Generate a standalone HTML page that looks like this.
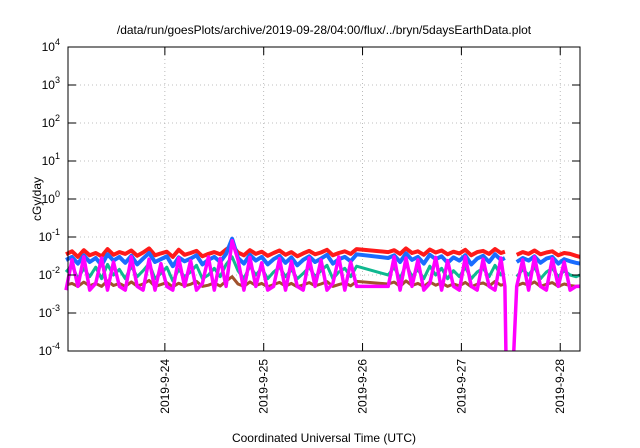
<!DOCTYPE html>
<html><head><meta charset="utf-8"><style>
html,body{margin:0;padding:0;background:#fff}
svg{display:block;font-family:"Liberation Sans",sans-serif}
</style></head><body>
<svg id="chart" width="640" height="448" viewBox="0 0 640 448" xmlns="http://www.w3.org/2000/svg">
<text x="324" y="34" font-size="12" text-anchor="middle">/data/run/goesPlots/archive/2019-09-28/04:00/flux/../bryn/5daysEarthData.plot</text>
<text x="0" y="0" font-size="12" text-anchor="middle" transform="translate(41,199) rotate(-90)">cGy/day</text>
<text x="324" y="442" font-size="12" text-anchor="middle">Coordinated Universal Time (UTC)</text>
<g id="grid"></g><g id="series"></g><g id="axes"></g>
</svg>
<script>
const times=[23.00,23.06,23.12,23.18,23.24,23.30,23.36,23.42,23.48,23.54,23.60,23.66,23.72,23.78,23.84,23.90,23.96,24.02,24.08,24.14,24.20,24.26,24.32,24.38,24.44,24.50,24.56,24.62,24.68,24.74,24.80,24.86,24.92,24.98,25.04,25.10,25.16,25.22,25.28,25.34,25.40,25.46,25.52,25.58,25.64,25.70,25.76,25.82,25.88,25.94,
26.26,26.32,26.38,26.44,26.50,26.56,26.62,26.68,26.74,26.80,26.86,26.92,26.98,27.04,27.10,27.16,27.22,27.28,27.34,27.40,27.44,
27.45,27.49,27.53,
27.56,27.62,27.68,27.74,27.80,27.86,27.92,27.98,28.04,28.10,28.16,28.20];
const redSeries=[0.035,0.042,0.030,0.045,0.033,0.038,0.031,0.048,0.034,0.040,0.036,0.044,0.032,0.039,0.050,0.033,0.037,0.041,0.030,0.046,0.034,0.038,0.043,0.031,0.036,0.040,0.035,0.047,0.060,0.039,0.033,0.045,0.036,0.041,0.032,0.038,0.044,0.034,0.040,0.031,0.037,0.043,0.035,0.039,0.046,0.033,0.038,0.042,0.036,0.048,
0.040,0.045,0.036,0.050,0.038,0.042,0.034,0.047,0.039,0.044,0.035,0.041,0.037,0.046,0.033,0.040,0.043,0.036,0.048,0.038,0.041,
null,null,null,
0.034,0.040,0.036,0.044,0.035,0.039,0.042,0.033,0.038,0.036,0.032,0.030];
const tealSeries=[0.012,0.018,0.008,0.015,0.009,0.016,0.008,0.019,0.010,0.014,0.008,0.017,0.009,0.013,0.020,0.008,0.011,0.016,0.007,0.014,0.009,0.012,0.018,0.008,0.010,0.015,0.009,0.019,0.030,0.013,0.008,0.017,0.010,0.015,0.008,0.012,0.016,0.009,0.014,0.008,0.011,0.016,0.009,0.013,0.018,0.008,0.012,0.015,0.009,0.017,
0.010,0.016,0.008,0.019,0.009,0.014,0.008,0.017,0.010,0.015,0.008,0.013,0.009,0.016,0.008,0.012,0.015,0.009,0.018,0.010,0.011,
null,null,null,
0.009,0.014,0.010,0.016,0.008,0.012,0.015,0.009,0.013,0.010,0.009,0.010];
const brownSeries=[0.0055,0.006,0.005,0.0065,0.0052,0.006,0.005,0.007,0.0053,0.006,0.005,0.0066,0.0051,0.0058,0.0072,0.005,0.0056,0.0063,0.0049,0.0061,0.0052,0.0057,0.0068,0.005,0.0054,0.0062,0.0051,0.0069,0.009,0.0058,0.005,0.0066,0.0053,0.006,0.0049,0.0056,0.0064,0.0051,0.006,0.0049,0.0055,0.0063,0.0052,0.0058,0.0067,0.005,0.0056,0.0062,0.0052,0.0068,
0.0058,0.0065,0.005,0.007,0.0053,0.006,0.005,0.0066,0.0054,0.0062,0.005,0.0058,0.0052,0.0064,0.0049,0.0057,0.0062,0.0051,0.0068,0.0054,0.0058,
null,null,null,
0.0052,0.0061,0.0054,0.0066,0.005,0.0057,0.0063,0.005,0.0058,0.0053,0.005,0.0052];
const blueSeries=[0.025,0.030,0.020,0.033,0.022,0.028,0.018,0.035,0.024,0.030,0.021,0.032,0.019,0.027,0.038,0.022,0.026,0.031,0.017,0.029,0.023,0.027,0.033,0.019,0.025,0.030,0.022,0.036,0.090,0.028,0.020,0.034,0.024,0.030,0.019,0.026,0.032,0.021,0.029,0.018,0.025,0.031,0.022,0.027,0.034,0.020,0.026,0.030,0.023,0.035,
0.028,0.033,0.022,0.037,0.025,0.030,0.020,0.034,0.026,0.031,0.021,0.029,0.024,0.033,0.019,0.027,0.032,0.022,0.035,0.025,0.028,
null,null,null,
0.022,0.028,0.024,0.031,0.021,0.027,0.030,0.020,0.026,0.023,0.021,0.020];
const magentaSeries=[0.004,0.025,0.005,0.030,0.004,0.006,0.028,0.004,0.022,0.005,0.004,0.030,0.005,0.004,0.026,0.004,0.020,0.005,0.004,0.028,0.005,0.024,0.004,0.006,0.030,0.004,0.027,0.005,0.080,0.025,0.004,0.029,0.005,0.021,0.004,0.005,0.027,0.004,0.023,0.005,0.004,0.028,0.005,0.025,0.004,0.006,0.030,0.004,0.022,0.005,
0.005,0.030,0.004,0.028,0.005,0.025,0.004,0.006,0.029,0.004,0.024,0.005,0.004,0.030,0.005,0.004,0.026,0.005,0.004,0.028,0.005,
0.0001,null,0.0001,
0.005,0.025,0.004,0.030,0.005,0.004,0.027,0.005,0.022,0.004,0.005,0.005];
const xTickDays=[24,25,26,27,28];
const xTickLabels=["2019-9-24","2019-9-25","2019-9-26","2019-9-27","2019-9-28"];
const yTickExps=[-4,-3,-2,-1,0,1,2,3,4];

const L=68,R=580,T=47,B=351,X0=23.02,X1=28.2;
const xs=d=>L+(d-X0)/(X1-X0)*(R-L);
const ys=v=>B-(Math.log10(v)+4)/8*(B-T);
const NS="http://www.w3.org/2000/svg";
function mk(tag,attrs,parent){const e=document.createElementNS(NS,tag);for(const k in attrs)e.setAttribute(k,attrs[k]);parent.appendChild(e);return e;}
const grid=document.getElementById('grid'),axes=document.getElementById('axes'),ser=document.getElementById('series');
yTickExps.forEach(p=>{
  const y=ys(Math.pow(10,p));
  if(p>-4&&p<4){const g=mk('line',{x1:L,x2:R,y1:y,y2:y,stroke:'#aaa','stroke-width':0.8,'stroke-dasharray':'1,3'},grid);
  
  }
  mk('line',{x1:L,x2:L+8,y1:y,y2:y,stroke:'#000'},axes);
  mk('line',{x1:R,x2:R-8,y1:y,y2:y,stroke:'#000'},axes);
  const t=mk('text',{x:L-8,y:y+4,'font-size':12,'text-anchor':'end'},axes);
  
  
  t.textContent='10';
  const s=mk('tspan',{dy:-6,'font-size':9},t);s.textContent=String(p);
});
xTickDays.forEach((d,i)=>{
  const x=xs(d);
  const g=mk('line',{x1:x,x2:x,y1:T,y2:B,stroke:'#aaa','stroke-width':0.8,'stroke-dasharray':'1,3'},grid);
  
  
  mk('line',{x1:x,x2:x,y1:B,y2:B-8,stroke:'#000'},axes);
  mk('line',{x1:x,x2:x,y1:T,y2:T+8,stroke:'#000'},axes);
  const t=mk('text',{x:0,y:0,'font-size':12,'text-anchor':'end',transform:`translate(${x+4},${B+8}) rotate(-90)`},axes);
  
  
  t.textContent=xTickLabels[i];
});
const frame=mk('rect',{x:L,y:T,width:R-L,height:B-T,fill:'none',stroke:'#000','stroke-width':1},axes);


function draw(vals,color,name,w){
  let d='',pen=false;
  vals.forEach((v,i)=>{if(v==null){pen=false;return;}d+=(pen?'L':'M')+xs(times[i]).toFixed(1)+','+ys(v).toFixed(1);pen=true;});
  const p=mk('path',{d:d,fill:'none',stroke:color,'stroke-width':w,'stroke-linejoin':'round'},ser);
  
  
}
draw(redSeries,'#ff1a1a','series-red',4);
draw(tealSeries,'#10b890','series-teal',3);
draw(brownSeries,'#a0522d','series-brown',3);
draw(blueSeries,'#1a6cff','series-blue',4);
draw(magentaSeries,'#ff00ff','series-magenta',3.5);
</script>
</body></html>
